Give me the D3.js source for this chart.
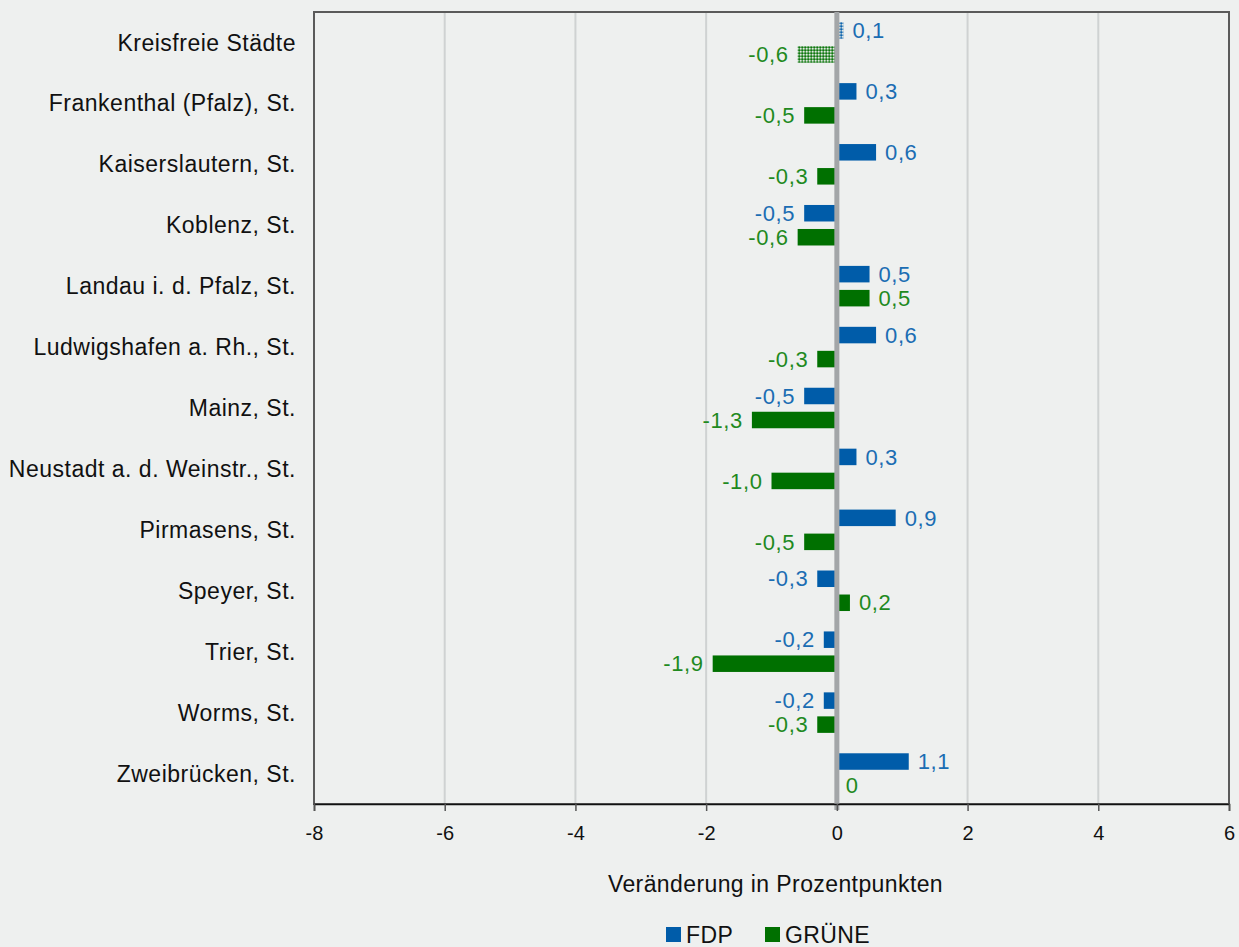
<!DOCTYPE html>
<html>
<head>
<meta charset="utf-8">
<script src="https://cdn.jsdelivr.net/npm/d3@7"></script>
<style>
  body { margin: 0; background: #eef0ef; }
  text { font-family: "Liberation Sans", Arial, sans-serif; }
</style>
</head>
<body>
<div class="chart"></div>
<script>
// data
var categories = ["Kreisfreie Städte", "Frankenthal (Pfalz), St.", "Kaiserslautern, St.", "Koblenz, St.",
  "Landau i. d. Pfalz, St.", "Ludwigshafen a. Rh., St.", "Mainz, St.", "Neustadt a. d. Weinstr., St.",
  "Pirmasens, St.", "Speyer, St.", "Trier, St.", "Worms, St.", "Zweibrücken, St."];
var fdp = [0.1, 0.3, 0.6, -0.5, 0.5, 0.6, -0.5, 0.3, 0.9, -0.3, -0.2, -0.2, 1.1];
var gruene = [-0.6, -0.5, -0.3, -0.6, 0.5, -0.3, -1.3, -1.0, -0.5, 0.2, -1.9, -0.3, 0];
var seriesNames = ["FDP", "GRÜNE"];
var seriesColors = ["#005ca9", "#007000"];
var labelColors = ["#1b6db3", "#1f8a1f"];
var xTicks = [-8, -6, -4, -2, 0, 2, 4, 6];

var W = 1239, H = 947;
var margin = { top: 12, right: 10, bottom: 143, left: 314 };
var width = 1229 - margin.left, height = 804 - margin.top;

var svg = d3.select(".chart").append("svg")
  .attr("width", W).attr("height", H);

// dotted pattern for the summary row
var defs = svg.append("defs");
seriesColors.forEach(function (c, i) {
  var p = defs.append("pattern")
    .attr("id", "dots" + i)
    .attr("patternUnits", "userSpaceOnUse")
    .attr("width", 3).attr("height", 3);
  p.append("rect").attr("width", 3).attr("height", 3).attr("fill", c).attr("opacity", 0.6);
  p.append("rect").attr("width", 1.5).attr("height", 1.5).attr("fill", "#e2e8e2");
  p.append("rect").attr("x", 1.5).attr("y", 1.5).attr("width", 1.5).attr("height", 1.5).attr("fill", c).attr("opacity", 0.85);
});

var g = svg.append("g").attr("transform", "translate(" + margin.left + "," + margin.top + ")");

var x = d3.scaleLinear().domain([-8, 6]).range([0, width]);
var y = d3.scaleBand().domain(categories).range([0, height]).padding(0);
var yInner = d3.scaleBand().domain(seriesNames).range([0, y.bandwidth()])
  .paddingInner(0.3125).paddingOuter(0.425);

// gridlines
g.append("g").selectAll("line")
  .data(xTicks.filter(function (d) { return d !== -8 && d !== 6 && d !== 0; }))
  .enter().append("line")
  .attr("x1", function (d) { return x(d); })
  .attr("x2", function (d) { return x(d); })
  .attr("y1", 0).attr("y2", height)
  .attr("stroke", "#cfd2d2").attr("stroke-width", 2);

// frame
g.append("rect")
  .attr("width", width).attr("height", height)
  .attr("fill", "none").attr("stroke", "#5a5a5a").attr("stroke-width", 2);

// bars
var rows = categories.map(function (c, i) {
  return { cat: c, i: i, vals: [fdp[i], gruene[i]] };
});

var row = g.append("g").selectAll("g")
  .data(rows).enter().append("g")
  .attr("transform", function (d) { return "translate(0," + y(d.cat) + ")"; });

row.selectAll("rect")
  .data(function (d) { return d.vals.map(function (v, k) { return { v: v, k: k, i: d.i }; }); })
  .enter().append("rect")
  .attr("x", function (d) { return x(Math.min(0, d.v)); })
  .attr("y", function (d) { return yInner(seriesNames[d.k]); })
  .attr("width", function (d) { return Math.abs(x(d.v) - x(0)); })
  .attr("height", yInner.bandwidth())
  .attr("fill", function (d) { return d.i === 0 ? "url(#dots" + d.k + ")" : seriesColors[d.k]; });

var fmt = function (v) { return v === 0 ? "0" : d3.format(".1f")(v).replace(".", ",").replace("−", "-"); };

row.selectAll("text")
  .data(function (d) { return d.vals.map(function (v, k) { return { v: v, k: k }; }); })
  .enter().append("text")
  .attr("x", function (d) { return d.v < 0 ? x(d.v) - 9 : x(d.v) + 9; })
  .attr("y", function (d) { return yInner(seriesNames[d.k]) + yInner.bandwidth() / 2; })
  .attr("dy", "0.35em")
  .attr("text-anchor", function (d) { return d.v < 0 ? "end" : "start"; })
  .attr("fill", function (d) { return labelColors[d.k]; })
  .style("font-size", "22px")
  .style("letter-spacing", "0.6px")
  .text(function (d) { return fmt(d.v); });

// zero line
g.append("line")
  .attr("x1", x(0)).attr("x2", x(0))
  .attr("y1", 0).attr("y2", height + 6)
  .attr("stroke", "#a3a6a8").attr("stroke-width", 5);

// category labels
g.append("g").selectAll("text")
  .data(categories).enter().append("text")
  .attr("x", -18)
  .attr("y", function (d) { return y(d) + y.bandwidth() / 2; })
  .attr("dy", "0.35em")
  .attr("text-anchor", "end")
  .attr("fill", "#111")
  .style("font-size", "23px")
  .style("letter-spacing", "0.5px")
  .text(function (d) { return d; });

// x axis
var xAxis = g.append("g")
  .attr("transform", "translate(0," + height + ")")
  .call(d3.axisBottom(x).tickValues(xTicks).tickSize(7).tickPadding(15)
    .tickFormat(function (d) { return String(d); }));
xAxis.select(".domain").attr("stroke", "#111").attr("stroke-width", 1.5);
xAxis.selectAll(".tick line").attr("stroke", "#555").attr("stroke-width", 1.5);
xAxis.selectAll(".tick text").style("font-size", "20px").attr("fill", "#111")
  .style("font-family", "'Liberation Sans', Arial, sans-serif");

g.append("text")
  .attr("x", x(-1) + 4).attr("y", height + 88)
  .attr("text-anchor", "middle")
  .attr("fill", "#111")
  .style("font-size", "23px")
  .style("letter-spacing", "0.4px")
  .text("Veränderung in Prozentpunkten");

// legend
var legend = svg.append("g").attr("transform", "translate(666,927)");
var legX = [0, 99];
seriesNames.forEach(function (s, k) {
  var lg = legend.append("g").attr("transform", "translate(" + legX[k] + ",0)");
  lg.append("rect").attr("width", 15).attr("height", 15).attr("fill", seriesColors[k]);
  lg.append("text").attr("x", 20).attr("y", 8).attr("dy", "0.35em")
    .attr("fill", "#111").style("font-size", "23px").style("letter-spacing", "0.4px").text(s);
});
</script>
</body>
</html>
